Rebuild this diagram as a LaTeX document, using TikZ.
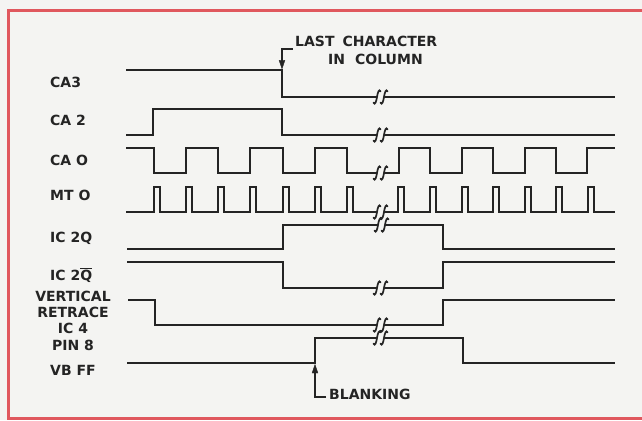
\documentclass[tikz,border=0pt]{standalone}
\usepackage{fontspec}
\setmainfont{DejaVu Sans}
\definecolor{framered}{RGB}{224,88,94}
\definecolor{ink}{RGB}{36,36,36}
\definecolor{paper}{RGB}{244,244,242}
\tikzset{
  sig/.style={draw=ink, line width=1.7pt, line join=miter},
  brk/.style={draw=ink, line width=1.7pt, line cap=round},
  lbl/.style={font=\bfseries\fontsize{14}{16.3}\selectfont, text=ink, inner sep=0pt},
  ptr/.style={draw=ink, line width=1.4pt},
  tiphead/.style={fill=ink, draw=ink, line width=0.4pt, line join=miter},
}
\newcommand\brkmark[2]{%
  \draw[brk,shift={(#1,#2)}] (-3.6,5.6) .. controls (-1.8,8.8) and (-0.7,4) .. (0,0) .. controls (0.7,-4) and (1.8,-8.8) .. (3.6,-5.6);%
  \draw[brk,shift={(#1+7,#2)}] (-3.6,5.6) .. controls (-1.8,8.8) and (-0.7,4) .. (0,0) .. controls (0.7,-4) and (1.8,-8.8) .. (3.6,-5.6);%
}
\begin{document}
\begin{tikzpicture}[x=1pt,y=-1pt]
\useasboundingbox (0,0) rectangle (642,420);
\clip (0,0) rectangle (642,420);
\fill[paper] (0,0) rectangle (642,420);
\draw[framered, line width=3.2pt] (8.5,10.5) rectangle (700,418.5);

% labels
\node[lbl, anchor=base west] (lca3) at (50,88) {CA3};
\node[lbl, anchor=base west] (lca2) at (50,125) {CA 2};
\node[lbl, anchor=base west] (lca0) at (50,165) {CA O};
\node[lbl, anchor=base west] (lmt0) at (50,200) {MT O};
\node[lbl, anchor=base west] (lic2q) at (50,242) {IC 2Q};
\node[lbl, anchor=base west] (lic2qb) at (50,280) {IC 2$\overline{\hbox{Q}}$};
\node[lbl, align=center, anchor=center] (lvr) at (73,320.5) {VERTICAL\\RETRACE\\IC 4\\PIN 8};
\node[lbl, anchor=base west] (lvb) at (50,375) {VB FF};

% CA3
\draw[sig] (126,70) -- (282,70) -- (282,97) -- (377,97);
\draw[sig] (384,97) -- (615,97);
\brkmark{377}{97}
% CA2
\draw[sig] (126,135) -- (153,135) -- (153,109) -- (282,109) -- (282,135) -- (377,135);
\draw[sig] (384,135) -- (615,135);
\brkmark{377}{135}
% CA0
\draw[sig] (126,148) -- (154,148) -- (154,173) -- (186,173) -- (186,148) -- (218,148) -- (218,173)
  -- (250,173) -- (250,148) -- (283,148) -- (283,173) -- (315,173) -- (315,148) -- (347,148)
  -- (347,173) -- (377,173);
\draw[sig] (384,173) -- (399,173) -- (399,148) -- (430,148) -- (430,173) -- (462,173) -- (462,148)
  -- (493,148) -- (493,173) -- (525,173) -- (525,148) -- (556,148) -- (556,173) -- (587,173)
  -- (587,148) -- (615,148);
\brkmark{377}{173}
% MT0
\draw[sig] (126,212) \foreach \x in {154,186,218,250,283,315,347} { -- (\x,212) -- (\x,187) -- (\x+6,187) -- (\x+6,212) } -- (377,212);
\draw[sig] (384,212) \foreach \x in {398,430,462,493,525,556,588} { -- (\x,212) -- (\x,187) -- (\x+6,187) -- (\x+6,212) } -- (615,212);
\brkmark{377}{212}
% IC 2Q
\draw[sig] (127,249) -- (283,249) -- (283,225) -- (378,225);
\draw[sig] (385,225) -- (443,225) -- (443,249) -- (615,249);
\brkmark{378}{225}
% IC 2Qbar
\draw[sig] (127,262) -- (283,262) -- (283,288) -- (377,288);
\draw[sig] (384,288) -- (443,288) -- (443,262) -- (615,262);
\brkmark{377}{288}
% vertical retrace
\draw[sig] (128,300) -- (155,300) -- (155,325) -- (377,325);
\draw[sig] (384,325) -- (443,325) -- (443,300) -- (615,300);
\brkmark{377}{325}
% VB FF
\draw[sig] (127,363) -- (315,363) -- (315,338) -- (377,338);
\draw[sig] (384,338) -- (463,338) -- (463,363) -- (615,363);
\brkmark{377}{338}

% last character pointer
\node[lbl, anchor=base west] (lc1) at (295,46.5) {LAST\hspace{8pt}CHARACTER};
\node[lbl, anchor=base west] (lc2) at (328,64) {IN\hspace{10pt}COLUMN};
\coordinate (lcTail) at (292.5,49);
\coordinate (lcCorner) at (282,49);
\coordinate (lcTip) at (282,68.8);
\draw[ptr] (lcTail) -- (lcCorner) -- ([yshift=4pt]lcTip);
\fill[tiphead] (lcTip) -- ++(-2.9,-8.5) -- ++(5.8,0) -- cycle;

% blanking pointer
\node[lbl, anchor=base west] (blank) at (329,399.5) {BLANKING};
\coordinate (bkTail) at (326,397);
\coordinate (bkCorner) at (315,397);
\coordinate (bkTip) at (315,364.5);
\draw[ptr] (bkTail) -- (bkCorner) -- ([yshift=-4pt]bkTip);
\fill[tiphead] (bkTip) -- ++(-2.9,8.5) -- ++(5.8,0) -- cycle;
\end{tikzpicture}
\end{document}
